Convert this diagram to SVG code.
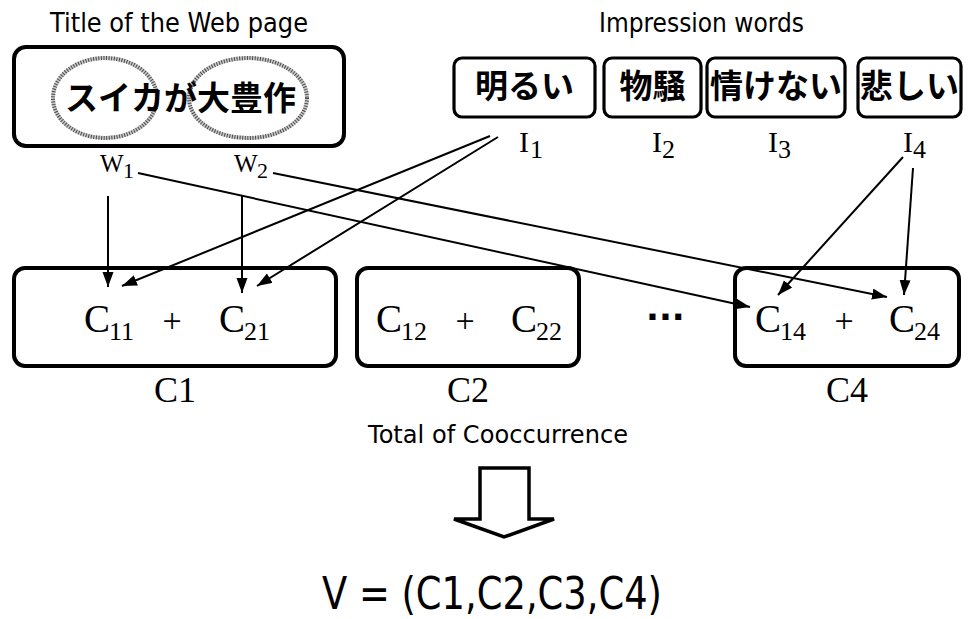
<svg xmlns="http://www.w3.org/2000/svg" width="973" height="619" viewBox="0 0 973 619">
  <style>
    .sans { font-family: "DejaVu Sans", Verdana, sans-serif; fill: #000; }
    .jp { font-family: "Noto Sans CJK JP", sans-serif; font-size: 33px; font-weight: 700; fill: #000; }
    .serif { font-family: "Liberation Serif", "Times New Roman", serif; fill: #000; }
    .box { fill: #fff; stroke: #000; stroke-width: 4; }
    .ibox { fill: #fff; stroke: #000; stroke-width: 3.2; }
    .edge { stroke: #000; stroke-width: 2; fill: none; marker-end: url(#arrow); }
    .halo { fill: none; stroke: #c8c8c8; stroke-width: 4; }
    .hatch { fill: none; stroke: #4a4a4a; stroke-width: 4; stroke-dasharray: 1 1.6; }
  </style>
  <defs>
    <marker id="arrow" markerUnits="userSpaceOnUse" markerWidth="16" markerHeight="12" refX="15" refY="5.5" orient="auto">
      <path d="M0,0 L15,5.5 L0,11 Z" fill="#000"/>
    </marker>
  </defs>

  <rect width="973" height="619" fill="#fff"/>

  <!-- headings -->
  <text class="sans" x="50" y="32" font-size="26" textLength="258" lengthAdjust="spacingAndGlyphs">Title of the Web page</text>
  <text class="sans" x="599" y="32" font-size="26" textLength="205" lengthAdjust="spacingAndGlyphs">Impression words</text>

  <!-- page title with the two extracted words circled -->
  <g id="title">
    <rect class="box" x="14" y="47" width="330" height="99" rx="12"/>
    <ellipse class="halo" cx="105" cy="98" rx="52" ry="40"/>
    <ellipse class="hatch" cx="105" cy="98" rx="52" ry="40"/>
    <ellipse class="halo" cx="248" cy="98" rx="59" ry="40"/>
    <ellipse class="hatch" cx="248" cy="98" rx="59" ry="40"/>
    <text class="jp" x="65" y="110">スイカが大豊作</text>
  </g>

  <g id="w1">
    <text class="serif" x="100" y="172" font-size="25">W</text>
    <text class="serif" x="123" y="178" font-size="22">1</text>
  </g>
  <g id="w2">
    <text class="serif" x="234" y="172" font-size="25">W</text>
    <text class="serif" x="257" y="178" font-size="22">2</text>
  </g>

  <!-- impression words -->
  <g id="i1">
    <rect class="ibox" x="454" y="58" width="141" height="59" rx="8"/>
    <text class="jp" x="524.5" y="98" text-anchor="middle">明るい</text>
    <text class="serif" x="519" y="152" font-size="30">I</text>
    <text class="serif" x="530" y="158" font-size="26">1</text>
  </g>
  <g id="i2">
    <rect class="ibox" x="604" y="58" width="97" height="59" rx="8"/>
    <text class="jp" x="652.5" y="98" text-anchor="middle">物騒</text>
    <text class="serif" x="652" y="152" font-size="30">I</text>
    <text class="serif" x="662" y="158" font-size="26">2</text>
  </g>
  <g id="i3">
    <rect class="ibox" x="707" y="58" width="138" height="59" rx="8"/>
    <text class="jp" x="776" y="98" text-anchor="middle">情けない</text>
    <text class="serif" x="768" y="152" font-size="30">I</text>
    <text class="serif" x="778" y="158" font-size="26">3</text>
  </g>
  <g id="i4">
    <rect class="ibox" x="858" y="58" width="103" height="59" rx="8"/>
    <text class="jp" x="909.5" y="98" text-anchor="middle">悲しい</text>
    <text class="serif" x="903" y="152" font-size="30">I</text>
    <text class="serif" x="913" y="158" font-size="26">4</text>
  </g>

  <!-- co-occurrence sums -->
  <g id="c1">
    <rect class="box" x="14" y="268" width="322" height="98" rx="11"/>
    <text class="serif" x="84" y="332" font-size="39">C<tspan font-size="26" dx="-1" dy="8">11</tspan></text>
    <text class="serif" x="172" y="332" font-size="34" text-anchor="middle">+</text>
    <text class="serif" x="219" y="332" font-size="39">C<tspan font-size="26" dx="-1" dy="8">21</tspan></text>
    <text class="serif" x="175" y="402" font-size="36" text-anchor="middle">C1</text>
  </g>
  <g id="c2">
    <rect class="box" x="357" y="268" width="222" height="98" rx="11"/>
    <text class="serif" x="376" y="332" font-size="39">C<tspan font-size="26" dx="-1" dy="8">12</tspan></text>
    <text class="serif" x="465" y="332" font-size="34" text-anchor="middle">+</text>
    <text class="serif" x="511" y="332" font-size="39">C<tspan font-size="26" dx="-1" dy="8">22</tspan></text>
    <text class="serif" x="468" y="402" font-size="36" text-anchor="middle">C2</text>
  </g>
  <text class="sans" x="646" y="320" font-size="34" font-weight="bold">...</text>
  <g id="c4">
    <rect class="box" x="735" y="268" width="224" height="98" rx="11"/>
    <text class="serif" x="755" y="332" font-size="39">C<tspan font-size="26" dx="-1" dy="8">14</tspan></text>
    <text class="serif" x="844" y="332" font-size="34" text-anchor="middle">+</text>
    <text class="serif" x="889" y="332" font-size="39">C<tspan font-size="26" dx="-1" dy="8">24</tspan></text>
    <text class="serif" x="847" y="402" font-size="36" text-anchor="middle">C4</text>
  </g>

  <!-- connectors -->
  <g id="connectors">
    <line class="edge" x1="108" y1="196" x2="108" y2="287"/>
    <line class="edge" x1="242" y1="196" x2="242" y2="293"/>
    <line class="edge" x1="490" y1="136" x2="122" y2="286"/>
    <line class="edge" x1="498" y1="137" x2="257" y2="286"/>
    <line class="edge" x1="138" y1="173" x2="750" y2="307"/>
    <line class="edge" x1="273" y1="173" x2="887" y2="297"/>
    <line class="edge" x1="903" y1="157" x2="778" y2="295"/>
    <line class="edge" x1="913" y1="168" x2="904" y2="295"/>
  </g>

  <!-- summary -->
  <text class="sans" x="368" y="443" font-size="24" textLength="260" lengthAdjust="spacingAndGlyphs">Total of Cooccurrence</text>
  <path d="M480,468 H529 V519 H554 L504,537 L454,519 H480 Z" fill="#fff" stroke="#000" stroke-width="3.5" stroke-linejoin="miter"/>
  <text class="sans" x="322" y="609" font-size="44" textLength="340" lengthAdjust="spacingAndGlyphs">V = (C1,C2,C3,C4)</text>
</svg>
